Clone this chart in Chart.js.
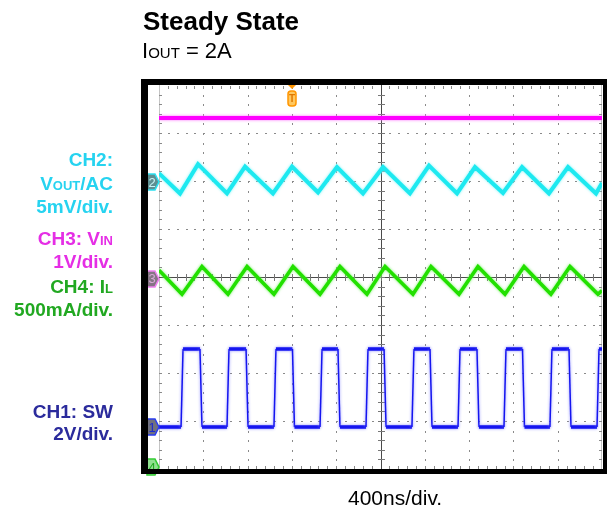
<!DOCTYPE html>
<html>
<head>
<meta charset="utf-8">
<script src="https://cdn.jsdelivr.net/npm/chart.js@4.4.1/dist/chart.umd.min.js"></script>
<style>
  html, body { margin: 0; padding: 0; background: #fff; }
  body { width: 607px; height: 510px; position: relative; overflow: hidden; font-family: 'Liberation Sans', Arial, sans-serif; }
  #scope { position: absolute; left: 0; top: 0; }
  .title { position: absolute; left: 143px; top: 8px; font-size: 26px; line-height: 26px; font-weight: bold; color: #000; }
  .subtitle { position: absolute; left: 142px; top: 40px; font-size: 22px; line-height: 22px; color: #000; }
  .subtitle .sc { font-size: 15px; }
  .lbl { position: absolute; right: 494px; font-size: 19px; line-height: 19px; font-weight: bold; text-align: right; white-space: nowrap; }
  .lbl .sc { font-size: 13px; }
  .ch1 { color: #2b2b9c; }
  .ch2 { color: #26d3f0; }
  .ch3 { color: #e52ee5; }
  .ch4 { color: #21a821; }
  .xlabel { position: absolute; left: 348px; top: 487px; font-size: 21px; line-height: 21px; color: #000; white-space: nowrap; }
</style>
</head>
<body>
<canvas id="scope" width="607" height="510"></canvas>

<div class="title">Steady State</div>
<div class="subtitle">I<span class="sc">OUT</span> = 2A</div>

<div class="lbl ch2" style="top:150px">CH2:</div>
<div class="lbl ch2" style="top:174px">V<span class="sc">OUT</span>/AC</div>
<div class="lbl ch2" style="top:197px">5mV/div.</div>
<div class="lbl ch3" style="top:229px">CH3: V<span class="sc">IN</span></div>
<div class="lbl ch3" style="top:252px">1V/div.</div>
<div class="lbl ch4" style="top:277px">CH4: I<span class="sc">L</span></div>
<div class="lbl ch4" style="top:300px">500mA/div.</div>
<div class="lbl ch1" style="top:402px">CH1: SW</div>
<div class="lbl ch1" style="top:424px">2V/div.</div>

<div class="xlabel">400ns/div.</div>

<script>
// horizontal: 400 ns/div over 10 divisions, vertical: 8 divisions
const NS_PER_DIV = 400;
const X_DIVS = 10;
const Y_DIVS = 8;
const triggerTime = 1201;

// CH1 switch node, volts
const swTime = [0, 199, 217, 370, 388, 614, 632, 786, 804, 1038, 1056, 1205, 1223,
  1454, 1472, 1616, 1634, 1869, 1887, 2032, 2050, 2284, 2302, 2447, 2465,
  2700, 2718, 2871, 2889, 3115, 3133, 3282, 3300, 3530, 3548, 3702, 3720, 3955, 3973, 4000];
const swVolts = [0, 0, 3.25, 3.25, 0, 0, 3.25, 3.25, 0, 0, 3.25, 3.25, 0,
  0, 3.25, 3.25, 0, 0, 3.25, 3.25, 0, 0, 3.25, 3.25, 0,
  0, 3.25, 3.25, 0, 0, 3.25, 3.25, 0, 0, 3.25, 3.25, 0, 0, 3.25, 3.25];

// CH2 output ripple (AC coupled), mV
const voutTime = [0, 190, 352, 614, 777, 1029, 1201, 1436, 1607, 1842, 2023,
  2266, 2438, 2691, 2853, 3106, 3278, 3521, 3693, 3946, 4000];
const voutMv = [0.9, -1.2, 1.85, -1.2, 1.6, -1.2, 1.6, -1.1, 1.55, -1.2, 1.55,
  -1.2, 1.7, -1.2, 1.55, -1.15, 1.55, -1.2, 1.55, -1.2, -0.1];

// CH3 input voltage, volts
const vinTime = [0, 4000];
const vinVolts = [3.35, 3.35];

// CH4 inductor current, amps
const ilTime = [0, 208, 388, 623, 795, 1038, 1210, 1454, 1634, 1878, 2041,
  2293, 2456, 2709, 2880, 3124, 3296, 3539, 3711, 3964, 4000];
const ilAmps = [2.05, 1.80, 2.09, 1.80, 2.09, 1.80, 2.09, 1.80, 2.09, 1.80, 2.09,
  1.80, 2.09, 1.80, 2.09, 1.80, 2.09, 1.80, 2.09, 1.80, 1.84];

// per channel: units/div and ground position in divisions from screen centre
const CH1_SCALE = 2, CH1_GND = -3.125;
const CH2_SCALE = 5, CH2_GND = 1.98;
const CH3_SCALE = 1, CH3_GND = -0.04;
const CH4_SCALE = 0.5, CH4_GND = -3.96;

function pts(xs, ys) { return xs.map((x, i) => ({ x, y: ys[i] })); }

function chAxis(perDiv, gnd) {
  return { type: 'linear', axis: 'y', display: false,
    min: (-Y_DIVS / 2 - gnd) * perDiv, max: (Y_DIVS / 2 - gnd) * perDiv };
}

// dotted graticule, centre cross and edge ticks
const graticule = {
  id: 'graticule',
  beforeDatasetsDraw(chart) {
    const { ctx, chartArea: a, scales } = chart;
    const xs = scales.x, ys = scales.div;
    ctx.save();
    ctx.fillStyle = '#8a8a8a';
    for (let i = 1; i < X_DIVS; i++) {
      if (i === X_DIVS / 2) continue;
      const px = Math.round(xs.getPixelForValue(i * NS_PER_DIV));
      for (let j = 1; j < Y_DIVS * 5; j++) {
        const py = Math.round(ys.getPixelForValue(-4 + j * 0.2));
        ctx.fillRect(px, py, 1, 2);
      }
    }
    for (let j = 1; j < Y_DIVS; j++) {
      if (j === Y_DIVS / 2) continue;
      const py = Math.round(ys.getPixelForValue(-4 + j));
      for (let i = 1; i < X_DIVS * 5; i++) {
        const px = Math.round(xs.getPixelForValue(i * NS_PER_DIV / 5));
        ctx.fillRect(px, py, 2, 1);
      }
    }
    // edges
    ctx.fillStyle = '#c4c4c4';
    ctx.fillRect(a.left, a.top, 1, a.bottom - a.top);
    ctx.fillRect(a.right - 1, a.top, 1, a.bottom - a.top);
    ctx.fillStyle = '#8a8a8a';
    for (let j = 1; j < Y_DIVS * 5; j++) {
      const py = Math.round(ys.getPixelForValue(-4 + j * 0.2));
      ctx.fillRect(a.left, py, 3, 1);
      ctx.fillRect(a.right - 3, py, 3, 1);
    }
    for (let i = 1; i < X_DIVS * 5; i++) {
      const px = Math.round(xs.getPixelForValue(i * NS_PER_DIV / 5));
      ctx.fillRect(px, a.top + 1, 1, 3);
      ctx.fillRect(px, a.bottom - 3, 1, 3);
    }
    // centre cross with minor ticks
    const cx = Math.round(xs.getPixelForValue(X_DIVS / 2 * NS_PER_DIV));
    const cy = Math.round(ys.getPixelForValue(0));
    ctx.fillStyle = '#4a4a4a';
    ctx.fillRect(a.left, cy, a.right - a.left, 1);
    ctx.fillRect(cx, a.top, 1, a.bottom - a.top);
    ctx.fillStyle = '#777';
    for (let i = 1; i < X_DIVS * 5; i++) {
      const px = Math.round(xs.getPixelForValue(i * NS_PER_DIV / 5));
      ctx.fillRect(px, cy - 3, 1, 7);
    }
    for (let j = 1; j < Y_DIVS * 5; j++) {
      const py = Math.round(ys.getPixelForValue(-4 + j * 0.2));
      ctx.fillRect(cx - 3, py, 7, 1);
    }
    ctx.restore();
  }
};

// soft persistence glow around each trace
const traceGlow = {
  id: 'traceGlow',
  beforeDatasetDraw(chart, args) {
    const ds = chart.data.datasets[args.index];
    chart.ctx.save();
    chart.ctx.shadowColor = ds.glow;
    chart.ctx.shadowBlur = 3;
  },
  afterDatasetDraw(chart) { chart.ctx.restore(); }
};

function marker(ctx, x, y, label, fill, stroke, text) {
  ctx.beginPath();
  ctx.moveTo(x - 12, y - 8);
  ctx.lineTo(x - 4, y - 8);
  ctx.lineTo(x, y);
  ctx.lineTo(x - 4, y + 8);
  ctx.lineTo(x - 12, y + 8);
  ctx.closePath();
  ctx.fillStyle = fill;
  ctx.fill();
  ctx.lineWidth = 1.5;
  ctx.strokeStyle = stroke;
  ctx.stroke();
  ctx.fillStyle = text;
  ctx.font = '13px "Liberation Sans", Arial, sans-serif';
  ctx.textAlign = 'center';
  ctx.textBaseline = 'middle';
  ctx.fillText(label, x - 7, y + 1);
}

// channel ground markers, trigger marker and the black bezel
const scopeFrame = {
  id: 'scopeFrame',
  afterDraw(chart) {
    const { ctx, chartArea: a, scales } = chart;
    ctx.save();
    marker(ctx, a.left, scales.ch2.getPixelForValue(0), '2', '#5e8f92', '#2ce0f0', '#c8f4f8');
    marker(ctx, a.left, scales.ch3.getPixelForValue(0), '3', '#857585', '#f080f0', '#d8a8d8');
    marker(ctx, a.left, scales.ch1.getPixelForValue(0), '1', '#70717f', '#2a3cf0', '#1c2ad0');
    marker(ctx, a.left, scales.ch4.getPixelForValue(0), '4', '#90e090', '#33cc33', '#22aa22');

    const tx = Math.round(scales.x.getPixelForValue(triggerTime));
    ctx.fillStyle = '#ff9500';
    ctx.beginPath();
    ctx.moveTo(tx - 4, a.top);
    ctx.lineTo(tx + 4, a.top);
    ctx.lineTo(tx, a.top + 4);
    ctx.closePath();
    ctx.fill();
    ctx.beginPath();
    ctx.roundRect(tx - 4, a.top + 6, 8, 15, 3);
    ctx.fillStyle = '#ffc860';
    ctx.fill();
    ctx.lineWidth = 1.5;
    ctx.strokeStyle = '#ff9500';
    ctx.stroke();
    ctx.fillStyle = '#e07800';
    ctx.font = 'bold 10px "Liberation Sans", Arial, sans-serif';
    ctx.textAlign = 'center';
    ctx.textBaseline = 'middle';
    ctx.fillText('T', tx, a.top + 14);

    ctx.fillStyle = '#000';
    ctx.fillRect(a.left - 18, a.top - 6, chart.width - a.left + 18, 6);
    ctx.fillRect(a.left - 18, a.top - 6, 7, a.bottom - a.top + 11);
    ctx.fillRect(a.left - 18, a.bottom, chart.width - a.left + 18, 5);
    ctx.fillRect(a.right + 1, a.top - 6, chart.width - a.right, a.bottom - a.top + 11);
    ctx.restore();
  }
};

new Chart(document.getElementById('scope'), {
  type: 'line',
  data: {
    datasets: [
      { label: 'CH3', data: pts(vinTime, vinVolts), yAxisID: 'ch3',
        borderColor: '#ff00ff', glow: '#ff66ff', borderWidth: 4 },
      { label: 'CH2', data: pts(voutTime, voutMv), yAxisID: 'ch2',
        borderColor: '#1de9f0', glow: '#7ff4f8', borderWidth: 4 },
      { label: 'CH4', data: pts(ilTime, ilAmps), yAxisID: 'ch4',
        borderColor: '#22e000', glow: '#77ee66', borderWidth: 3.5 },
      { label: 'CH1', data: pts(swTime, swVolts), yAxisID: 'ch1',
        borderColor: '#1515f0', glow: '#8888ff', borderWidth: 2,
        segment: { borderWidth: (c) => c.p0.parsed.y === c.p1.parsed.y ? 3.5 : 1.5 } }
    ]
  },
  options: {
    responsive: false,
    devicePixelRatio: 1,
    animation: false,
    layout: { padding: { left: 159, top: 85, right: 5, bottom: 41 } },
    elements: {
      point: { radius: 0 },
      line: { tension: 0, fill: false, borderJoinStyle: 'miter' }
    },
    plugins: { legend: { display: false }, tooltip: { enabled: false } },
    scales: {
      x: { type: 'linear', display: false, min: 0, max: X_DIVS * NS_PER_DIV },
      div: { type: 'linear', axis: 'y', display: false, min: -Y_DIVS / 2, max: Y_DIVS / 2 },
      ch1: chAxis(CH1_SCALE, CH1_GND),
      ch2: chAxis(CH2_SCALE, CH2_GND),
      ch3: chAxis(CH3_SCALE, CH3_GND),
      ch4: chAxis(CH4_SCALE, CH4_GND)
    }
  },
  plugins: [graticule, traceGlow, scopeFrame]
});
</script>
</body>
</html>
